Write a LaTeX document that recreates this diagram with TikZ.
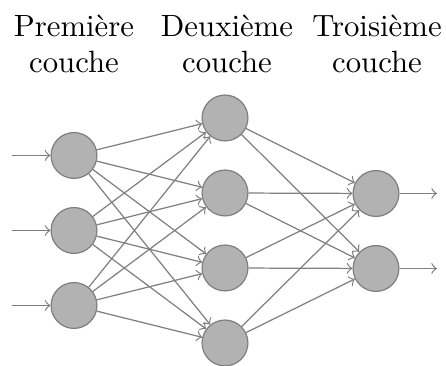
\documentclass[tikz,border=0pt]{standalone}
\begin{document}
\begin{tikzpicture}[x=0.325pt,y=-0.325pt,
  neuron/.style={circle,draw=black!50,fill=black!30,minimum size=14.9pt,inner sep=0pt,line width=0.4pt},
  conn/.style={draw=black!50,->,line width=0.4pt},
  title/.style={align=center,anchor=base,inner sep=0pt}]
\useasboundingbox (0,0) rectangle (446,366);
% titles
\node[title] (t1) at (74,73) {Première\\couche};
\node[title] (t2) at (227,73) {Deuxième\\couche};
\node[title] (t3) at (377,73) {Troisième\\couche};
% layer 1
\node[neuron] (a1) at (74,155.5) {};
\node[neuron] (a2) at (74,230.5) {};
\node[neuron] (a3) at (74,305.5) {};
% layer 2
\node[neuron] (b1) at (225,118) {};
\node[neuron] (b2) at (225,193) {};
\node[neuron] (b3) at (225,268) {};
\node[neuron] (b4) at (225,343) {};
% layer 3
\node[neuron] (c1) at (376,193.5) {};
\node[neuron] (c2) at (376,268.5) {};
% free ends
\coordinate (i1) at (12,155.5);
\coordinate (i2) at (12,230.5);
\coordinate (i3) at (12,305.5);
\coordinate (o1) at (437,193.5);
\coordinate (o2) at (437,268.5);
\foreach \k in {1,2,3}{\draw[conn] (i\k) -- (a\k);}
\foreach \k in {1,2}{\draw[conn] (c\k) -- (o\k);}
\foreach \i in {1,2,3}{\foreach \j in {1,2,3,4}{\draw[conn] (a\i) -- (b\j);}}
\foreach \i in {1,2,3,4}{\foreach \j in {1,2}{\draw[conn] (b\i) -- (c\j);}}
\end{tikzpicture}
\end{document}
